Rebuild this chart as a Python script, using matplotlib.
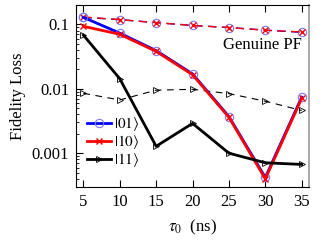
import matplotlib
matplotlib.use("Agg")
from matplotlib import pyplot as plt
from matplotlib.ticker import LogLocator, NullFormatter, FixedLocator

plt.rcParams['font.family'] = ['Liberation Serif', 'DejaVu Serif']
plt.rcParams['mathtext.fontset'] = 'stix'

tau = [5, 10, 15, 20, 25, 30, 35]

# genuine PF (solid)
loss_01 = [0.128, 0.073, 0.039, 0.017, 0.0037, 0.00042, 0.0074]
loss_10 = [0.093, 0.070, 0.038, 0.0165, 0.0036, 0.00040, 0.0071]
loss_11 = [0.068, 0.0143, 0.00128, 0.0029, 0.0010, 0.00071, 0.00067]

# dashed reference curves
ref_01 = [0.128, 0.118, 0.106, 0.096, 0.089, 0.081, 0.075]
ref_10 = [0.130, 0.118, 0.106, 0.096, 0.089, 0.081, 0.076]
ref_11 = [0.0085, 0.0067, 0.0095, 0.0098, 0.0084, 0.0064, 0.0046]

labels = [r'$|01\rangle$', r'$|10\rangle$', r'$|11\rangle$']

fig = plt.figure(figsize=(3.28, 2.44), dpi=100)
ax = fig.add_axes([0.232, 0.234, 0.710, 0.746])

ax.plot(tau, ref_01, '--', color='blue', lw=1.0, marker='o', ms=6, mfc='none', mec='#7b7bff', mew=0.8, dashes=(6, 4))
ax.plot(tau, ref_10, '--', color='red', lw=1.0, marker='x', ms=4, mew=1.0, dashes=(6, 4))
ax.plot(tau, ref_11, '--', color='black', lw=0.8, marker='>', ms=4, mfc='none', mew=0.6, dashes=(6, 5))

ax.plot(tau, loss_01, '-', color='blue', lw=2, marker='o', ms=6, mfc='none', mec='#7b7bff', mew=0.8, label=labels[0])
ax.plot(tau, loss_10, '-', color='red', lw=2, marker='x', ms=4, mew=1.0, label=labels[1])
ax.plot(tau, loss_11, '-', color='black', lw=2, marker='>', ms=4, mfc='none', mew=0.6, label=labels[2])

ax.set_yscale('log')
ax.set_xlim(4, 36)
ax.set_ylim(3e-4, 0.2)
ax.xaxis.set_major_locator(FixedLocator(tau))
ax.set_yticks([0.001, 0.01, 0.1])
ax.set_yticklabels(['0.001', '0.01', '0.1'])
ax.yaxis.set_minor_locator(LogLocator(base=10, subs=range(2, 10)))
ax.yaxis.set_minor_formatter(NullFormatter())
ax.tick_params(which='both', direction='in', top=True, right=False, labelsize=12)
ax.tick_params(which='major', length=5, width=0.8, pad=5)
ax.tick_params(which='minor', length=2.5, width=0.6)
ax.tick_params(axis='x', which='minor', bottom=False, top=False)
ax.spines['right'].set_color('#999999')
ax.spines['right'].set_linewidth(1.2)

ax.set_xlabel(r'$\tau_0$  (ns)', fontsize=12, labelpad=6)
ax.set_ylabel('Fidelity Loss', fontsize=12)
ax.text(0.97, 0.78, 'Genuine PF', transform=ax.transAxes, ha='right', va='center', fontsize=12)

ax.legend(loc='lower left', bbox_to_anchor=(0.0, 0.04), frameon=False, fontsize=11,
          handlelength=1.6, handletextpad=0.2, labelspacing=0.0, borderaxespad=0.3)

fig.savefig('out.png', dpi=100)
